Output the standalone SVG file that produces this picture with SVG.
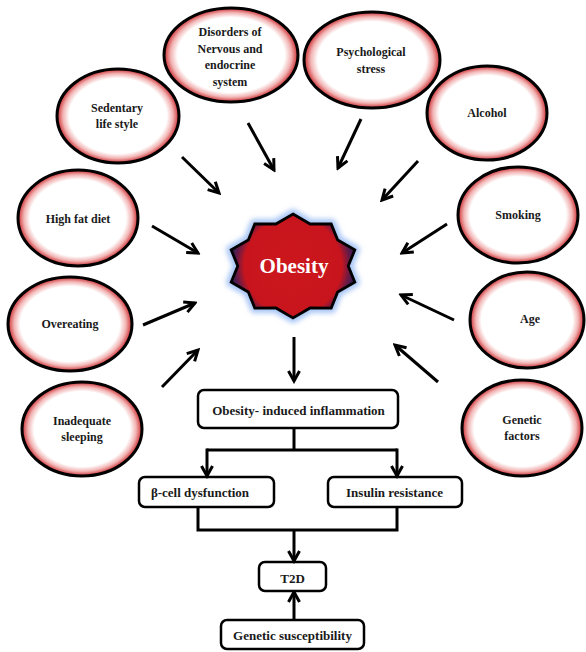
<svg xmlns="http://www.w3.org/2000/svg" width="586" height="652" viewBox="0 0 586 652">
<defs>
  <radialGradient id="ringGrad" cx="0.5" cy="0.5" r="0.5">
    <stop offset="0" stop-color="#ffffff"/>
    <stop offset="0.8" stop-color="#ffffff"/>
    <stop offset="0.9" stop-color="#f2b4b4"/>
    <stop offset="1" stop-color="#cc2a2e"/>
  </radialGradient>
  <radialGradient id="starGrad" gradientUnits="userSpaceOnUse" cx="293" cy="266" r="64">
    <stop offset="0" stop-color="#cc161c"/>
    <stop offset="0.76" stop-color="#c8151d"/>
    <stop offset="0.88" stop-color="#6a1a44"/>
    <stop offset="1" stop-color="#23205e"/>
  </radialGradient>
  <filter id="glow" x="-30%" y="-30%" width="160%" height="160%">
    <feGaussianBlur stdDeviation="2.5"/>
  </filter>
  <marker id="arr" markerUnits="userSpaceOnUse" viewBox="0 0 14 14" refX="11.5" refY="7" markerWidth="14" markerHeight="14" orient="auto">
    <path d="M1,1.5 L11.5,7 L1,12.5" fill="none" stroke="#000" stroke-width="3"/>
  </marker>
  <marker id="arrS" markerUnits="userSpaceOnUse" viewBox="0 0 14 14" refX="11.5" refY="7" markerWidth="14" markerHeight="14" orient="auto">
    <path d="M1.5,1.5 L11.5,7 L1.5,12.5" fill="none" stroke="#000" stroke-width="3"/>
  </marker>
</defs>
<style>
  .ell { fill: url(#ringGrad); stroke: #000; stroke-width: 3; }
  .lbl { font-family: "Liberation Serif", "Times New Roman", serif; font-weight: bold; font-size: 12px; fill: #1a1a1a; text-anchor: middle; }
  .box { fill: #fff; stroke: #000; stroke-width: 2.5; }
  .blbl { font-family: "Liberation Serif", "Times New Roman", serif; font-weight: bold; font-size: 13px; fill: #1a1a1a; text-anchor: middle; }
  .con { fill: none; stroke: #000; stroke-width: 3; }
</style>
<rect width="586" height="652" fill="#fff"/>

<g id="disorders">
  <ellipse class="ell" cx="231" cy="55" rx="67" ry="47"/>
  <text class="lbl" x="230" y="36">Disorders of</text>
  <text class="lbl" x="230" y="52.5">Nervous and</text>
  <text class="lbl" x="230" y="69">endocrine</text>
  <text class="lbl" x="230" y="85.5">system</text>
</g>
<g id="psych">
  <ellipse class="ell" cx="372" cy="60" rx="68" ry="48"/>
  <text class="lbl" x="371" y="56">Psychological</text>
  <text class="lbl" x="371" y="72.5">stress</text>
</g>
<g id="sedentary">
  <ellipse class="ell" cx="118" cy="116" rx="61" ry="47"/>
  <text class="lbl" x="117" y="111.5">Sedentary</text>
  <text class="lbl" x="117" y="128">life style</text>
</g>
<g id="highfat">
  <ellipse class="ell" cx="78" cy="218" rx="60" ry="48"/>
  <text class="lbl" x="78" y="222.5">High fat diet</text>
</g>
<g id="alcohol">
  <ellipse class="ell" cx="487" cy="113" rx="60" ry="47"/>
  <text class="lbl" x="487" y="116.5">Alcohol</text>
</g>
<g id="smoking">
  <ellipse class="ell" cx="518" cy="215" rx="60" ry="48"/>
  <text class="lbl" x="518" y="218.5">Smoking</text>
</g>
<g id="age">
  <ellipse class="ell" cx="527" cy="320" rx="57" ry="48"/>
  <text class="lbl" x="530" y="322.5">Age</text>
</g>
<g id="genetic">
  <ellipse class="ell" cx="522" cy="428" rx="60" ry="48"/>
  <text class="lbl" x="522" y="424">Genetic</text>
  <text class="lbl" x="522" y="440">factors</text>
</g>
<g id="overeating">
  <ellipse class="ell" cx="70" cy="324" rx="62" ry="47"/>
  <text class="lbl" x="70" y="327.5">Overeating</text>
</g>
<g id="sleeping">
  <ellipse class="ell" cx="82" cy="429" rx="60" ry="47"/>
  <text class="lbl" x="82" y="424.5">Inadequate</text>
  <text class="lbl" x="82" y="440.5">sleeping</text>
</g>

<g id="obesity">
  <path d="M293,214 L310.1,224 L331.2,223.9 L337.7,240 L354.8,249.9 L348.25,266 L354.8,282.1 L337.7,292 L331.2,308.1 L310.1,308 L293,318 L275.9,308 L254.8,308.1 L248.3,292 L231.2,282.1 L237.75,266 L231.2,249.9 L248.3,240 L254.8,223.9 L275.9,224 Z" fill="#a9c6f6" stroke="#a9c6f6" stroke-width="10" stroke-linejoin="round" filter="url(#glow)"/>
  <path d="M293,214 L310.1,224 L331.2,223.9 L337.7,240 L354.8,249.9 L348.25,266 L354.8,282.1 L337.7,292 L331.2,308.1 L310.1,308 L293,318 L275.9,308 L254.8,308.1 L248.3,292 L231.2,282.1 L237.75,266 L231.2,249.9 L248.3,240 L254.8,223.9 L275.9,224 Z" fill="url(#starGrad)" stroke="#000" stroke-width="2.8" stroke-linejoin="miter"/>
  <text x="294" y="273" font-family="'Liberation Serif', 'Times New Roman', serif" font-weight="bold" font-size="21" fill="#ffffff" text-anchor="middle">Obesity</text>
</g>

<g id="inflammation">
  <rect class="box" x="198" y="390" width="200" height="38" rx="6"/>
  <text class="blbl" x="298.5" y="415">Obesity- induced inflammation</text>
</g>
<g id="betacell">
  <rect class="box" x="139" y="477" width="135" height="30" rx="6"/>
  <text class="blbl" x="200" y="496.5">β-cell dysfunction</text>
</g>
<g id="insulin">
  <rect class="box" x="328" y="477" width="134" height="30" rx="6"/>
  <text class="blbl" x="394.5" y="496.5">Insulin resistance</text>
</g>
<g id="t2d">
  <rect class="box" x="259" y="562" width="67" height="29" rx="6"/>
  <text class="blbl" x="292.5" y="582.5">T2D</text>
</g>
<g id="susceptibility">
  <rect class="box" x="221" y="620" width="143" height="29" rx="6"/>
  <text class="blbl" x="292.5" y="639.5">Genetic susceptibility</text>
</g>

<g id="connectors">
  <line class="con" x1="182" y1="157" x2="219" y2="193" marker-end="url(#arr)"/>
  <line class="con" x1="248" y1="123" x2="274" y2="170" marker-end="url(#arr)"/>
  <line class="con" x1="361" y1="119" x2="338" y2="168" marker-end="url(#arr)"/>
  <line class="con" x1="418" y1="161" x2="382" y2="200" marker-end="url(#arr)"/>
  <line class="con" x1="447" y1="224" x2="402" y2="253" marker-end="url(#arr)"/>
  <line class="con" x1="152" y1="226" x2="198" y2="253" marker-end="url(#arr)"/>
  <line class="con" x1="143" y1="325" x2="195" y2="303" marker-end="url(#arr)"/>
  <line class="con" x1="162" y1="387" x2="198" y2="350" marker-end="url(#arr)"/>
  <line class="con" x1="454" y1="320" x2="401" y2="295" marker-end="url(#arr)"/>
  <line class="con" x1="438" y1="382" x2="395" y2="345" marker-end="url(#arr)"/>
  <line class="con" x1="294" y1="337" x2="294" y2="381" marker-end="url(#arrS)"/>
  <path class="con" d="M294,428 V450 M207,450 H397"/>
  <line class="con" x1="207" y1="448.5" x2="207" y2="476" marker-end="url(#arrS)"/>
  <line class="con" x1="397" y1="448.5" x2="397" y2="476" marker-end="url(#arrS)"/>
  <path class="con" d="M198,507 V530 H397 V507"/>
  <line class="con" x1="294" y1="530" x2="294" y2="561" marker-end="url(#arrS)"/>
  <line class="con" x1="294" y1="620" x2="294" y2="592" marker-end="url(#arrS)"/>
</g>
</svg>
